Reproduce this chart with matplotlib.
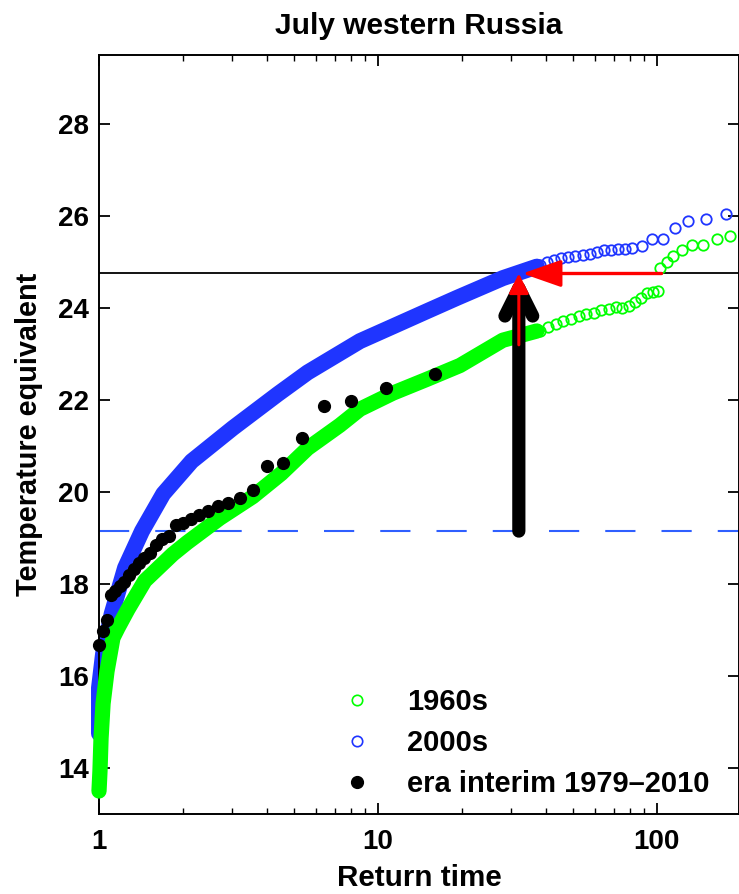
import numpy as np
import matplotlib
matplotlib.use('Agg')
import matplotlib.pyplot as plt
from matplotlib.lines import Line2D
from matplotlib.ticker import LogLocator, NullFormatter

plt.rcParams['font.family'] = ['Liberation Sans', 'DejaVu Sans']
plt.rcParams['font.weight'] = 'bold'

# --- data ---
# 1960s model ensemble: dense part (drawn as a band) and the loose tail circles
t60_band = [1.0, 1.008, 1.017, 1.034, 1.068, 1.122, 1.17, 1.27, 1.46, 1.84,
            2.07, 2.71, 3.56, 4.5, 5.6, 7.3, 8.62, 11.32, 14.98, 19.68,
            28.05, 37.14]
y60_band = [13.5, 13.93, 14.65, 15.4, 16.1, 16.83, 17.05, 17.45, 18.07, 18.65,
            18.9, 19.43, 19.9, 20.4, 20.95, 21.45, 21.8, 22.15, 22.45, 22.75,
            23.3, 23.5]
t60_tail = [38.1, 40.7, 43.5, 46.0, 49.2, 52.5, 55.7, 59.5, 63.0, 67.3, 71.3,
            74.9, 79.4, 83.4, 87.6, 92.1, 96.8, 100.8, 102.5, 108.3, 114.1,
            122.6, 133.2, 146.6, 163.7, 182.7]
y60_tail = [23.5, 23.58, 23.66, 23.72, 23.76, 23.82, 23.86, 23.9, 23.95, 23.98,
            24.02, 24.0, 24.05, 24.12, 24.22, 24.32, 24.35, 24.37, 24.88, 24.99,
            25.13, 25.27, 25.38, 25.38, 25.49, 25.57]

# 2000s model ensemble
t00_band = [1.0, 1.0, 1.0, 1.034, 1.11, 1.24, 1.426, 1.70, 2.15, 3.02, 4.38,
            5.6, 8.62, 11.32, 14.98, 19.2, 28.05, 37.14]
y00_band = [14.75, 15.3, 15.74, 16.48, 17.35, 18.35, 19.15, 19.96, 20.67, 21.39,
            22.13, 22.6, 23.28, 23.6, 23.93, 24.22, 24.65, 24.9]
t00_tail = [38.1, 40.3, 42.7, 45.3, 48.0, 50.8, 54.3, 57.5, 61.0, 64.6, 68.4,
            72.5, 76.8, 81.4, 88.4, 96.0, 105.1, 116.0, 129.1, 149.8, 176.7]
y00_tail = [24.93, 25.0, 25.05, 25.08, 25.1, 25.13, 25.15, 25.18, 25.22, 25.25,
            25.27, 25.28, 25.28, 25.3, 25.35, 25.5, 25.5, 25.74, 25.9, 25.93,
            26.04]

# ERA-interim 1979-2010, ranks 2..32 (return time 32/rank)
t_era = [16.0, 10.67, 8.0, 6.4, 5.333, 4.571, 4.0, 3.556, 3.2, 2.909, 2.667,
         2.462, 2.286, 2.133, 2.0, 1.882, 1.778, 1.684, 1.6, 1.524, 1.455,
         1.391, 1.333, 1.28, 1.231, 1.185, 1.143, 1.103, 1.067, 1.032, 1.0]
y_era = [22.57, 22.27, 21.98, 21.88, 21.17, 20.62, 20.57, 20.05, 19.87, 19.76,
         19.7, 19.58, 19.5, 19.42, 19.33, 19.28, 19.05, 18.98, 18.85, 18.67,
         18.57, 18.45, 18.33, 18.2, 18.05, 17.95, 17.85, 17.75, 17.22, 16.98,
         16.68]

t_2010 = 32.0       # return time of the 2010 event in the 2000s climate
y_2010 = 24.75      # 2010 value
y_base = 19.15      # dashed reference level
t_1960s = 104.0     # return time of the same value in the 1960s climate
y_red_start = 23.2

green = '#00ff00'
blue = '#1f35ff'

fig = plt.figure(figsize=(7.39, 8.94), dpi=100)
ax = fig.add_axes([99 / 739, 80 / 894, 640 / 739, 759 / 894])

# bands (dense overlapping circles)
ax.plot(t00_band, y00_band, color=blue, lw=11.5, solid_capstyle='round',
        solid_joinstyle='round', clip_on=False, zorder=2)
ax.plot(t00_tail, y00_tail, 'o', mfc='none', mec=blue, ms=7.5, mew=1.3,
        clip_on=False, zorder=2)
ax.plot(t60_band, y60_band, color=green, lw=11, solid_capstyle='round',
        solid_joinstyle='round', clip_on=False, zorder=3)
ax.plot(t60_tail, y60_tail, 'o', mfc='none', mec=green, ms=7.5, mew=1.3,
        clip_on=False, zorder=3)

ax.plot(t_era, y_era, 'o', color='black', ms=8.5, clip_on=False, zorder=5)

ax.axhline(y_2010, color='black', lw=1.3, zorder=1)
ax.axhline(y_base, color='#2f5fff', lw=1.5, dashes=(14.5, 12.5), zorder=1)

# black arrow: 2010 event
ax.annotate('', xy=(t_2010, y_2010), xytext=(t_2010, y_base),
            arrowprops=dict(arrowstyle='->,head_length=1.0,head_width=0.5',
                            color='black', lw=9.5, shrinkA=0, shrinkB=0,
                            mutation_scale=20), zorder=6)
# red arrows
ax.annotate('', xy=(t_2010, y_2010), xytext=(t_2010, y_red_start),
            arrowprops=dict(arrowstyle='-|>,head_length=0.6,head_width=0.3',
                            color='red', lw=2.2, shrinkA=0, shrinkB=0,
                            mutation_scale=20), zorder=7)
ax.annotate('', xy=(t_2010 * 1.03, y_2010), xytext=(t_1960s, y_2010),
            arrowprops=dict(arrowstyle='-|>,head_length=1.2,head_width=0.42',
                            color='red', lw=2.4, shrinkA=0, shrinkB=0,
                            mutation_scale=20), zorder=7)

ax.set_xscale('log')
ax.set_xlim(1, 197)
ax.set_ylim(13, 29.5)
ax.set_xticks([1, 10, 100], ['1', '10', '100'])
ax.xaxis.set_minor_locator(LogLocator(base=10, subs=np.arange(2, 10)))
ax.xaxis.set_minor_formatter(NullFormatter())
ax.set_yticks(np.arange(14, 29, 2))

ax.tick_params(which='major', direction='in', length=8, width=1.3,
               top=True, right=True, labelsize=20, pad=7)
ax.tick_params(axis='x', which='major', pad=11)
ax.tick_params(which='minor', direction='in', length=4.5, width=1.0,
               top=True, right=True)
for s in ax.spines.values():
    s.set_linewidth(1.4)

ax.set_title('July western Russia', fontsize=21.5, fontweight='bold', pad=15)
ax.set_xlabel('Return time', fontsize=21.3, fontweight='bold', labelpad=6)
ax.set_ylabel('Temperature equivalent', fontsize=20.8, fontweight='bold',
              labelpad=11)

handles = [
    Line2D([], [], ls='none', marker='o', mfc='none', mec=green, ms=7.5, mew=1.2),
    Line2D([], [], ls='none', marker='o', mfc='none', mec=blue, ms=7.5, mew=1.2),
    Line2D([], [], ls='none', marker='o', color='black', ms=8.5),
]
ax.legend(handles, ['1960s', '2000s', 'era interim 1979\u20132010'],
          loc='upper left', bbox_to_anchor=(0.381, 0.166), frameon=False,
          borderpad=0, borderaxespad=0, handlelength=1.0, handletextpad=1.2,
          labelspacing=0.45, prop=dict(size=21, weight='bold'))

fig.savefig('out.png', dpi=100)
